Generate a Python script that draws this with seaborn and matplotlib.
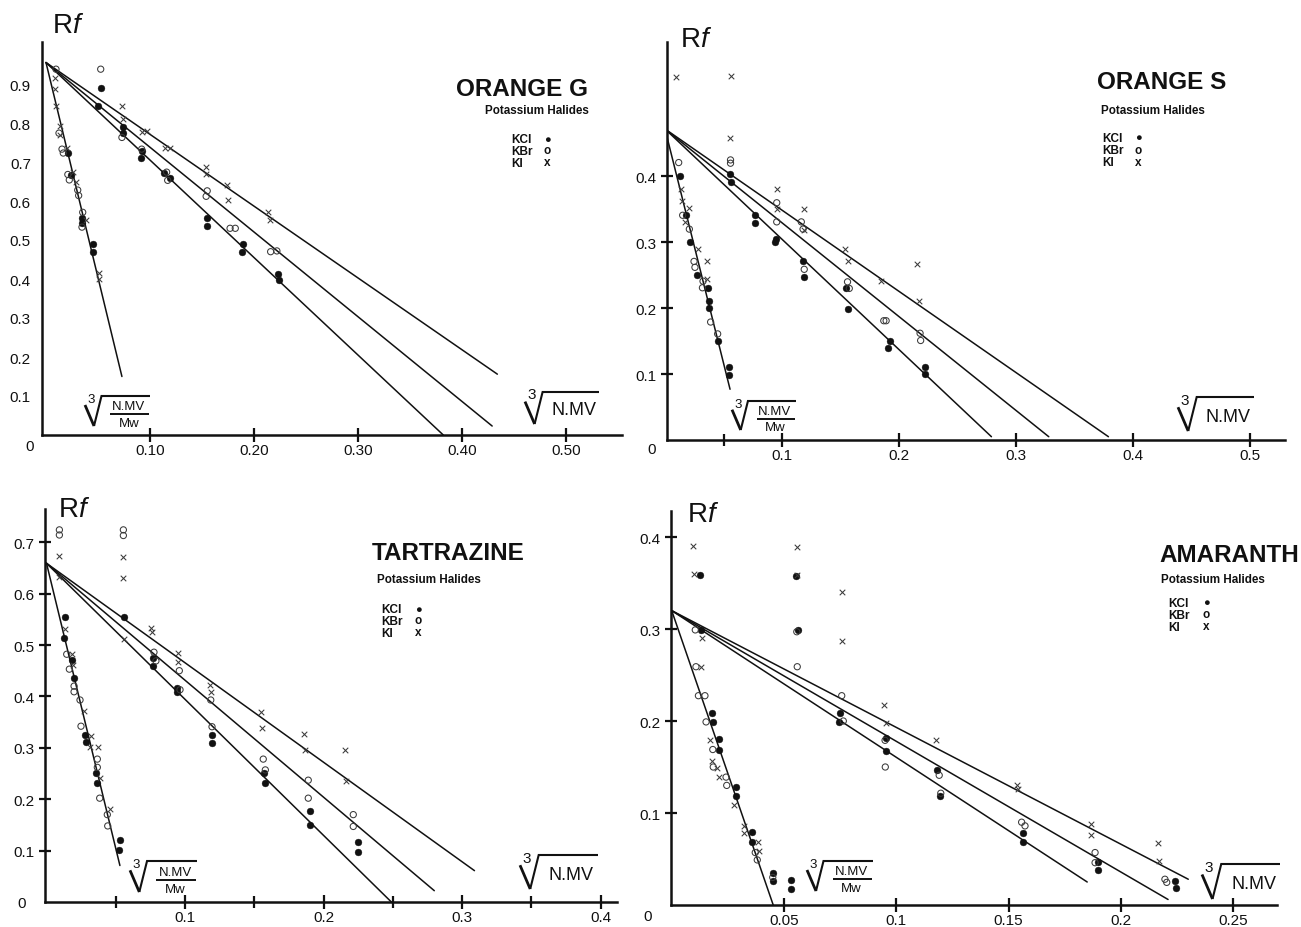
import matplotlib
matplotlib.use("Agg")
import matplotlib.pyplot as plt
from matplotlib.lines import Line2D
import seaborn as sns

# ---------------- DATA ----------------
SALTS = ["KCl", "KBr", "KI"]

# ORANGE G
OG_KCL_X = [0.021, 0.0237, 0.0343, 0.0349, 0.0455, 0.0448, 0.053, 0.050, 0.074, 0.074, 0.092, 0.091,
            0.1135, 0.119, 0.155, 0.155, 0.189, 0.188, 0.223, 0.224]
OG_KCL_Y = [0.722, 0.667, 0.556, 0.543, 0.490, 0.468, 0.891, 0.844, 0.790, 0.774, 0.727, 0.710,
            0.672, 0.658, 0.556, 0.537, 0.490, 0.468, 0.413, 0.397]
OG_KBR_X = [0.0096, 0.0125, 0.0154, 0.0166, 0.021, 0.0224, 0.0305, 0.0314, 0.0353, 0.0346,
            0.0526, 0.073, 0.092, 0.116, 0.117, 0.155, 0.154, 0.177, 0.182, 0.216, 0.222]
OG_KBR_Y = [0.938, 0.774, 0.733, 0.723, 0.668, 0.654, 0.628, 0.614, 0.571, 0.533,
            0.938, 0.763, 0.733, 0.674, 0.653, 0.626, 0.612, 0.530, 0.530, 0.470, 0.472]
OG_KI_X = [0.009, 0.0087, 0.010, 0.013, 0.0135, 0.020, 0.0257, 0.0288, 0.038, 0.051, 0.051,
           0.0728, 0.0743, 0.0926, 0.0968, 0.114, 0.119, 0.154, 0.154, 0.174, 0.175, 0.213, 0.215]
OG_KI_Y = [0.915, 0.887, 0.844, 0.793, 0.768, 0.735, 0.675, 0.650, 0.552, 0.415, 0.400,
           0.843, 0.810, 0.778, 0.779, 0.735, 0.737, 0.686, 0.669, 0.641, 0.603, 0.573, 0.552]
OG_LINES = [(0.0, 0.955, 0.073, 0.150), (0.0, 0.955, 0.382, 0.0),
            (0.0, 0.955, 0.429, 0.023), (0.0, 0.955, 0.434, 0.156)]

# ORANGE S
OS_KCL_X = [0.0128, 0.018, 0.0216, 0.0276, 0.037, 0.038, 0.0373, 0.045, 0.0547, 0.0547,
            0.0556, 0.056, 0.0766, 0.077, 0.095, 0.094, 0.1177, 0.119, 0.1547, 0.156, 0.192, 0.191,
            0.222, 0.2225]
OS_KCL_Y = [0.401, 0.341, 0.301, 0.250, 0.230, 0.211, 0.200, 0.150, 0.111, 0.099,
            0.403, 0.391, 0.341, 0.329, 0.305, 0.300, 0.271, 0.248, 0.230, 0.199, 0.150, 0.139,
            0.111, 0.100]
OS_KBR_X = [0.0117, 0.0151, 0.0208, 0.0248, 0.0256, 0.0325, 0.032, 0.039, 0.045,
            0.056, 0.056, 0.0955, 0.0955, 0.1165, 0.118, 0.119, 0.156, 0.1575, 0.187, 0.189,
            0.218, 0.2185]
OS_KBR_Y = [0.421, 0.341, 0.320, 0.271, 0.262, 0.241, 0.231, 0.179, 0.161,
            0.425, 0.420, 0.360, 0.331, 0.331, 0.320, 0.259, 0.240, 0.230, 0.181, 0.181,
            0.162, 0.151]
OS_KI_X = [0.0094, 0.0134, 0.0142, 0.0202, 0.0174, 0.0285, 0.0356, 0.0356,
           0.056, 0.0556, 0.0955, 0.0955, 0.119, 0.119, 0.154, 0.156, 0.185, 0.2157, 0.217]
OS_KI_Y = [0.551, 0.381, 0.362, 0.352, 0.331, 0.290, 0.271, 0.245,
           0.552, 0.458, 0.381, 0.350, 0.350, 0.318, 0.290, 0.271, 0.242, 0.267, 0.211]
OS_LINES = [(0.0, 0.472, 0.0556, 0.077), (0.0, 0.472, 0.279, 0.005),
            (0.0, 0.472, 0.328, 0.005), (0.0, 0.472, 0.379, 0.005)]

# TARTRAZINE
TA_KCL_X = [0.0134, 0.0126, 0.0182, 0.0199, 0.028, 0.0283, 0.0355, 0.0362, 0.053, 0.0526,
            0.056, 0.077, 0.077, 0.094, 0.094, 0.1197, 0.1197, 0.157, 0.158, 0.190, 0.190,
            0.2247, 0.2251]
TA_KCL_Y = [0.554, 0.514, 0.471, 0.435, 0.325, 0.311, 0.251, 0.231, 0.121, 0.102,
            0.554, 0.474, 0.460, 0.416, 0.409, 0.324, 0.310, 0.251, 0.231, 0.178, 0.150,
            0.117, 0.098]
TA_KBR_X = [0.0093, 0.0093, 0.0555, 0.0555, 0.0146, 0.0165, 0.0199, 0.0199, 0.0242, 0.0249,
            0.0367, 0.0367, 0.0384, 0.0439, 0.0442, 0.0776, 0.079, 0.0959, 0.0964, 0.1186,
            0.1195, 0.1565, 0.158, 0.189, 0.189, 0.2215, 0.2215]
TA_KBR_Y = [0.724, 0.714, 0.724, 0.713, 0.482, 0.453, 0.420, 0.409, 0.393, 0.342,
            0.278, 0.262, 0.202, 0.170, 0.148, 0.486, 0.469, 0.450, 0.413, 0.393,
            0.341, 0.278, 0.257, 0.237, 0.202, 0.170, 0.147]
TA_KI_X = [0.0093, 0.0093, 0.0555, 0.0555, 0.0134, 0.0186, 0.019, 0.0273, 0.0319, 0.0314,
           0.0374, 0.0386, 0.0458, 0.056, 0.0755, 0.076, 0.0947, 0.0947, 0.118, 0.1186,
           0.1546, 0.1554, 0.186, 0.1866, 0.2155, 0.2162]
TA_KI_Y = [0.673, 0.632, 0.672, 0.630, 0.532, 0.482, 0.462, 0.371, 0.322, 0.301,
           0.301, 0.241, 0.181, 0.512, 0.533, 0.525, 0.484, 0.467, 0.422, 0.409,
           0.370, 0.339, 0.327, 0.296, 0.296, 0.236]
TA_LINES = [(0.0, 0.659, 0.053, 0.071), (0.0, 0.659, 0.249, 0.0),
            (0.0, 0.659, 0.280, 0.022), (0.0, 0.659, 0.309, 0.061)]

# AMARANTH
AM_KCL_X = [0.0126, 0.0553, 0.0564, 0.013, 0.0178, 0.0182, 0.0211, 0.0212, 0.0285, 0.0285,
            0.0359, 0.0359, 0.045, 0.045, 0.0531, 0.0531, 0.0749, 0.0746, 0.0953, 0.0954,
            0.1183, 0.1195, 0.1566, 0.1566, 0.190, 0.190, 0.2241, 0.2244]
AM_KCL_Y = [0.359, 0.358, 0.299, 0.299, 0.209, 0.199, 0.180, 0.168, 0.128, 0.119,
            0.079, 0.069, 0.0345, 0.0265, 0.0275, 0.0174, 0.209, 0.199, 0.182, 0.167,
            0.147, 0.119, 0.078, 0.068, 0.047, 0.038, 0.026, 0.018]
AM_KBR_X = [0.0557, 0.0559, 0.0105, 0.0108, 0.0119, 0.0148, 0.0153, 0.0183, 0.0185, 0.0242,
            0.0245, 0.0372, 0.0381, 0.045, 0.0757, 0.0764, 0.095, 0.0951, 0.1191, 0.1198,
            0.1558, 0.1573, 0.1885, 0.1885, 0.2196, 0.2204]
AM_KBR_Y = [0.297, 0.259, 0.299, 0.259, 0.2275, 0.2275, 0.199, 0.169, 0.150, 0.139,
            0.130, 0.057, 0.049, 0.030, 0.2275, 0.200, 0.179, 0.150, 0.141, 0.1215,
            0.090, 0.086, 0.057, 0.046, 0.028, 0.0246]
AM_KI_X = [0.0096, 0.0099, 0.0559, 0.0559, 0.0757, 0.0758, 0.0134, 0.013, 0.0171, 0.0178,
           0.0203, 0.0211, 0.0277, 0.0322, 0.0322, 0.0386, 0.039, 0.0945, 0.0954, 0.1177,
           0.1539, 0.1543, 0.1866, 0.1866, 0.2167, 0.2171]
AM_KI_Y = [0.390, 0.360, 0.389, 0.359, 0.340, 0.287, 0.290, 0.259, 0.179, 0.157,
           0.149, 0.139, 0.109, 0.086, 0.078, 0.069, 0.059, 0.217, 0.198, 0.179,
           0.130, 0.126, 0.088, 0.0765, 0.067, 0.0475]
AM_LINES = [(0.0, 0.320, 0.0452, 0.0), (0.0, 0.320, 0.185, 0.025),
            (0.0, 0.320, 0.221, 0.006), (0.0, 0.320, 0.230, 0.028)]

TITLES = ["ORANGE G", "ORANGE S", "TARTRAZINE", "AMARANTH"]
SUBTITLE = "Potassium Halides"
ROOT_INDEX = "3"
ROOT_TEXT = "N.MV"
ROOT_DEN = "Mw"

OG_XTICKS = [0.1, 0.2, 0.3, 0.4, 0.5]
OG_XLABELS = ["0.10", "0.20", "0.30", "0.40", "0.50"]
OG_YTICKS = [0.1, 0.2, 0.3, 0.4, 0.5, 0.6, 0.7, 0.8, 0.9]
OS_XTICKS = [0.1, 0.2, 0.3, 0.4, 0.5]
OS_XLABELS = ["0.1", "0.2", "0.3", "0.4", "0.5"]
OS_XMINOR = [0.05]
OS_YTICKS = [0.1, 0.2, 0.3, 0.4]
TA_XTICKS = [0.1, 0.2, 0.3, 0.4]
TA_XLABELS = ["0.1", "0.2", "0.3", "0.4"]
TA_XMINOR = [0.05, 0.15, 0.25, 0.35]
TA_YTICKS = [0.1, 0.2, 0.3, 0.4, 0.5, 0.6, 0.7]
AM_XTICKS = [0.05, 0.1, 0.15, 0.2, 0.25]
AM_XLABELS = ["0.05", "0.1", "0.15", "0.2", "0.25"]
AM_YTICKS = [0.1, 0.2, 0.3, 0.4]

# ---------------- STYLE ----------------
sns.set_theme(style="white")
plt.rcParams['font.family'] = ['Liberation Sans', 'DejaVu Sans']
plt.rcParams['mathtext.fontset'] = 'custom'
plt.rcParams['mathtext.rm'] = 'Liberation Sans'
plt.rcParams['mathtext.it'] = 'Liberation Sans:italic'
plt.rcParams['mathtext.bf'] = 'Liberation Sans:bold'

W, H = 1301, 928
fig = plt.figure(figsize=(W / 100, H / 100), dpi=100)
fig.patch.set_facecolor("white")
INK = "#111111"
GREY = "#3a3a3a"


def fx(px):
    return px / W


def fy(py):
    return 1 - py / H


def ftext(px, py, s, **kw):
    kw.setdefault("color", INK)
    return fig.text(fx(px), fy(py), s, **kw)


def fline(xs, ys, lw):
    fig.add_artist(Line2D([fx(v) for v in xs], [fy(v) for v in ys], color=INK,
                          linewidth=lw, solid_capstyle="butt", solid_joinstyle="miter",
                          transform=fig.transFigure))


def radical(L, top, bottom, R, frac):
    h = bottom - top
    vx = L + 0.55 * h
    fline([L, L + 0.3 * h], [top + 0.3 * h, bottom], 2.0)
    fline([L + 0.3 * h, vx, R], [bottom, top, top], 1.5)
    ftext(L + 0.2 * h, top + 0.2 * h, ROOT_INDEX, fontsize=9.5 if frac else 11,
          ha="center", va="baseline")
    cx = (vx + 6 + R) / 2
    if frac:
        ftext(cx, top + 0.45 * h, ROOT_TEXT, fontsize=9.5, ha="center", va="baseline")
        fline([vx + 9, R - 1], [top + 0.61 * h, top + 0.61 * h], 1.4)
        ftext(cx, top + 1.0 * h, ROOT_DEN, fontsize=9.5, ha="center", va="baseline")
    else:
        ftext(cx, top + 0.7 * h, ROOT_TEXT, fontsize=13, ha="center", va="baseline")


# layout: left_px, right_px, bottom_px, top_px, x0_px, px_per_unit_x, px_per_unit_y
LAYOUT = [
    (42, 622, 436, 43, 46, 1040, 390),
    (667, 1285, 441, 43, 665, 1170, 659),
    (45, 617, 903, 510, 46.5, 1385, 514),
    (671, 1277, 906, 512, 671.7, 2246, 920),
]

PANELS = [
    dict(kcl=(OG_KCL_X, OG_KCL_Y), kbr=(OG_KBR_X, OG_KBR_Y), ki=(OG_KI_X, OG_KI_Y), lines=OG_LINES,
         xt=OG_XTICKS, xl=OG_XLABELS, xm=[], yt=OG_YTICKS, ytick_len=0,
         rf=(52, 33), title=(456, 96), sub=(485, 114), leg=(511, 143, 547),
         rad1=(85, 397, 427, 150), rad2=(525, 393, 425, 599), zero=(30, 447)),
    dict(kcl=(OS_KCL_X, OS_KCL_Y), kbr=(OS_KBR_X, OS_KBR_Y), ki=(OS_KI_X, OS_KI_Y), lines=OS_LINES,
         xt=OS_XTICKS, xl=OS_XLABELS, xm=OS_XMINOR, yt=OS_YTICKS, ytick_len=9,
         rf=(680, 47), title=(1097, 89), sub=(1101, 114), leg=(1102, 142, 1138),
         rad1=(732, 402, 431, 796), rad2=(1178, 398, 432, 1254), zero=(652, 450)),
    dict(kcl=(TA_KCL_X, TA_KCL_Y), kbr=(TA_KBR_X, TA_KBR_Y), ki=(TA_KI_X, TA_KI_Y), lines=TA_LINES,
         xt=TA_XTICKS, xl=TA_XLABELS, xm=TA_XMINOR, yt=TA_YTICKS, ytick_len=9,
         rf=(58, 517), title=(372, 560), sub=(377, 583), leg=(381, 613, 418),
         rad1=(130, 862, 893, 197), rad2=(520, 856, 890, 598), zero=(22, 904)),
    dict(kcl=(AM_KCL_X, AM_KCL_Y), kbr=(AM_KBR_X, AM_KBR_Y), ki=(AM_KI_X, AM_KI_Y), lines=AM_LINES,
         xt=AM_XTICKS, xl=AM_XLABELS, xm=[], yt=AM_YTICKS, ytick_len=9,
         rf=(687, 522), title=(1159, 562), sub=(1161, 583), leg=(1168, 607, 1206),
         rad1=(807, 862, 892, 873), rad2=(1202, 865, 900, 1280), zero=(648, 917)),
]

for i, (lay, p) in enumerate(zip(LAYOUT, PANELS)):
    lpx, rpx, bpx, tpx, x0, sx, sy = lay
    ax = fig.add_axes([fx(lpx), fy(bpx), (rpx - lpx) / W, (bpx - tpx) / H])
    ax.set_facecolor("none")
    ax.set_xlim((lpx - x0) / sx, (rpx - x0) / sx)
    ax.set_ylim(0, (bpx - tpx) / sy)

    for (xa, ya, xb, yb) in p["lines"]:
        sns.lineplot(x=[xa, xb], y=[ya, yb], ax=ax, color=INK, linewidth=1.1,
                     sort=False, estimator=None)

    sns.scatterplot(x=p["kcl"][0], y=p["kcl"][1], ax=ax, marker="o", s=24,
                    color=INK, edgecolor=INK, linewidth=0.3, zorder=3, clip_on=False)
    sns.scatterplot(x=p["kbr"][0], y=p["kbr"][1], ax=ax, marker="o", s=20,
                    facecolor="none", edgecolor=GREY, linewidth=0.75, zorder=3, clip_on=False)
    sns.scatterplot(x=p["ki"][0], y=p["ki"][1], ax=ax, marker="x", s=16,
                    color=GREY, linewidth=0.75, zorder=3, clip_on=False)

    for side in ["top", "right"]:
        ax.spines[side].set_visible(False)
    for side in ["left", "bottom"]:
        ax.spines[side].set_color(INK)
        ax.spines[side].set_linewidth(1.8)

    ax.set_xticks(p["xt"])
    ax.set_xticklabels(p["xl"])
    ax.set_xticks(p["xm"], minor=True)
    ax.set_yticks(p["yt"])
    ax.set_yticklabels([f"{v:.1f}" for v in p["yt"]])
    ax.tick_params(axis="x", which="major", direction="inout", length=10, width=1.6,
                   color=INK, labelsize=11, pad=1, labelcolor=INK, bottom=True)
    ax.tick_params(axis="x", which="minor", direction="inout", length=8, width=1.6,
                   color=INK, bottom=True)
    ax.tick_params(axis="y", which="major", direction="inout", length=p["ytick_len"], width=1.6,
                   color=INK, labelsize=11, pad=3 if p["ytick_len"] else 8, labelcolor=INK,
                   left=True)
    ax.set_xlabel("")
    ax.set_ylabel("")
    ax.grid(False)

    # texts
    ftext(p["rf"][0], p["rf"][1], r"R$\mathit{f}$", fontsize=20, ha="left", va="baseline")
    ftext(p["title"][0], p["title"][1], TITLES[i], fontsize=17.5, fontweight="bold",
          ha="left", va="baseline")
    ftext(p["sub"][0], p["sub"][1], SUBTITLE, fontsize=8.4, fontweight="bold",
          ha="left", va="baseline")
    lx, ly, mx = p["leg"]
    for j, (salt, sym) in enumerate(zip(SALTS, ["\u25CF", "o", "x"])):
        ftext(lx, ly + 12 * j, salt, fontsize=8.5, fontweight="bold", ha="left", va="baseline")
        ftext(mx, ly + 12 * j - 3.5, sym, fontsize=8 if j == 0 else 8.5,
              fontweight="bold", ha="center", va="center")
    radical(*p["rad1"], frac=True)
    radical(*p["rad2"], frac=False)
    ftext(p["zero"][0], p["zero"][1], "0", fontsize=11, ha="center", va="center")

fig.savefig("out.png", dpi=100, facecolor="white")
